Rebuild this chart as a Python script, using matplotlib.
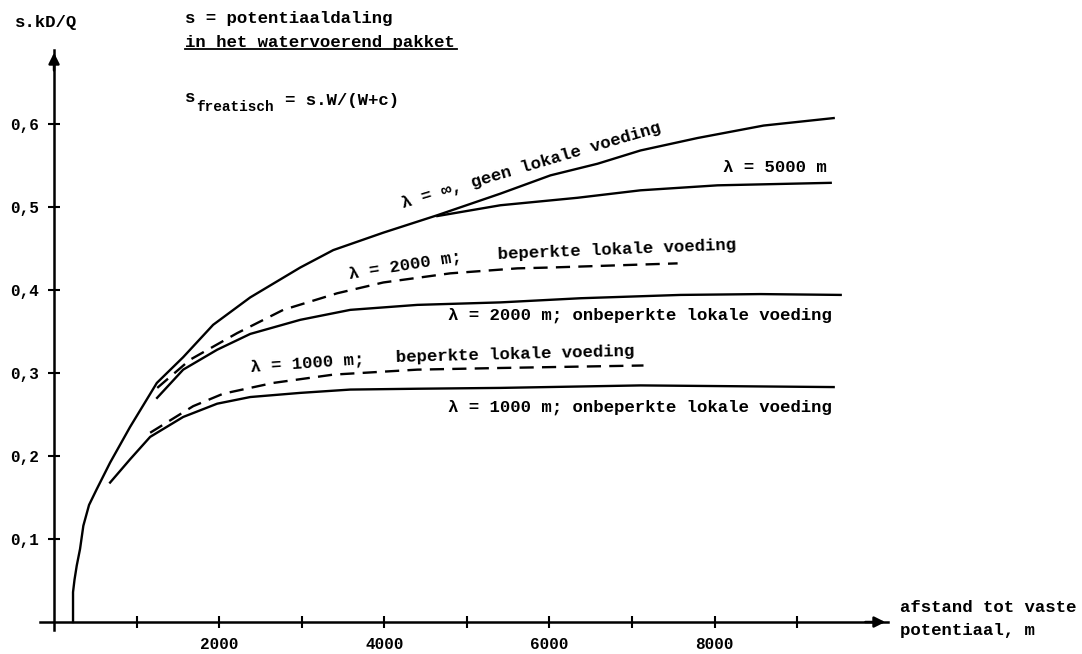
import matplotlib
matplotlib.use("Agg")
import matplotlib.pyplot as plt
from matplotlib.ticker import FixedLocator, FixedFormatter

plt.rcParams['font.family'] = ['Liberation Mono', 'DejaVu Sans Mono']
plt.rcParams['font.weight'] = 'bold'

# afstand (m) en s.kD/Q
inf_x = [230, 230, 248, 275, 315, 355, 424, 517, 679, 921, 1245, 1564, 1927,
         2376, 2982, 3382, 3988, 4642, 5406, 6012, 6582, 7103, 7794, 8594, 9442]
inf_y = [0.0, 0.036, 0.051, 0.068, 0.088, 0.116, 0.141, 0.160, 0.192, 0.235,
         0.288, 0.319, 0.358, 0.391, 0.427, 0.448, 0.469, 0.490, 0.516, 0.538,
         0.552, 0.568, 0.583, 0.598, 0.607]

l5000_x = [4642, 5406, 6339, 7103, 8036, 9406]
l5000_y = [0.489, 0.502, 0.511, 0.520, 0.526, 0.529]

d2000_x = [1250, 1648, 2218, 2776, 3430, 3988, 4800, 5612, 6012, 7552]
d2000_y = [0.282, 0.316, 0.348, 0.376, 0.396, 0.409, 0.420, 0.426, 0.427, 0.432]

s2000_x = [1248, 1564, 1976, 2376, 2982, 3588, 4400, 5406, 6376, 7588, 8558, 9527]
s2000_y = [0.270, 0.304, 0.328, 0.347, 0.364, 0.376, 0.382, 0.385, 0.390,
           0.394, 0.395, 0.394]

d1000_x = [1164, 1685, 2048, 2655, 3382, 4400, 5406, 7139]
d1000_y = [0.228, 0.260, 0.275, 0.288, 0.298, 0.304, 0.306, 0.309]

s1000_x = [679, 921, 1164, 1564, 1976, 2376, 2982, 3588, 4400, 5406, 7103, 9442]
s1000_y = [0.168, 0.196, 0.223, 0.247, 0.263, 0.271, 0.276, 0.280, 0.281,
           0.282, 0.285, 0.283]

x_ticks = [1000, 2000, 3000, 4000, 5000, 6000, 7000, 8000, 9000]
x_tick_labels = ['', '2000', '', '4000', '', '6000', '', '8000', '']
y_ticks = [0.1, 0.2, 0.3, 0.4, 0.5, 0.6]
y_tick_labels = ['0,1', '0,2', '0,3', '0,4', '0,5', '0,6']

W, H = 1082, 654
fig = plt.figure(figsize=(W / 100, H / 100), dpi=100)
ax = fig.add_axes([40 / W, 24 / H, 848 / W, 580 / H])
ax.set_xlim(-170, 10100)
ax.set_ylim(-0.0096, 0.689)

for s in ['top', 'right']:
    ax.spines[s].set_visible(False)
ax.spines['left'].set_position(('data', 0))
ax.spines['bottom'].set_position(('data', 0))
ax.spines['left'].set_linewidth(1.8)
ax.spines['bottom'].set_linewidth(1.8)

ax.annotate('', xy=(1, 0), xycoords=('axes fraction', 'data'),
            xytext=(0.97, 0), textcoords=('axes fraction', 'data'),
            arrowprops=dict(arrowstyle='-|>', color='black', lw=1.8, mutation_scale=16))
ax.annotate('', xy=(0, 1), xycoords=('data', 'axes fraction'),
            xytext=(0, 0.96), textcoords=('data', 'axes fraction'),
            arrowprops=dict(arrowstyle='-|>', color='black', lw=1.8, mutation_scale=16))

ax.xaxis.set_major_locator(FixedLocator(x_ticks))
ax.xaxis.set_major_formatter(FixedFormatter(x_tick_labels))
ax.yaxis.set_major_locator(FixedLocator(y_ticks))
ax.yaxis.set_major_formatter(FixedFormatter(y_tick_labels))
ax.tick_params(axis='both', direction='inout', length=9, width=1.5, labelsize=11.5)
ax.tick_params(axis='x', pad=6)
ax.tick_params(axis='y', pad=6)

lw = 1.7
ax.plot(inf_x, inf_y, color='black', lw=lw)
ax.plot(l5000_x, l5000_y, color='black', lw=lw)
ax.plot(s2000_x, s2000_y, color='black', lw=lw)
ax.plot(s1000_x, s1000_y, color='black', lw=lw)
ax.plot(d2000_x, d2000_y, color='black', lw=lw, dashes=(6, 3.5))
ax.plot(d1000_x, d1000_y, color='black', lw=lw, dashes=(6, 3.5))

fs = 12.5
ax.text(4225, 0.499, 'λ = ∞, geen lokale voeding', rotation=16.5,
        rotation_mode='anchor', ha='left', va='baseline', fontsize=fs)
ax.text(8099, 0.547, 'λ = 5000 m', ha='left', va='center', fontsize=fs)
ax.text(4249, 0.429, 'λ = 2000 m;', rotation=9, rotation_mode='anchor',
        ha='center', va='center', fontsize=fs)
ax.text(6816, 0.448, 'beperkte lokale voeding', rotation=2.3,
        rotation_mode='anchor', ha='center', va='center', fontsize=fs)
ax.text(9419, 0.370, 'λ = 2000 m; onbeperkte lokale voeding',
        ha='right', va='center', fontsize=fs)
ax.text(3063, 0.312, 'λ = 1000 m;', rotation=4, rotation_mode='anchor',
        ha='center', va='center', fontsize=fs)
ax.text(5581, 0.322, 'beperkte lokale voeding', rotation=1.5,
        rotation_mode='anchor', ha='center', va='center', fontsize=fs)
ax.text(9419, 0.259, 'λ = 1000 m; onbeperkte lokale voeding',
        ha='right', va='center', fontsize=fs)


def ftext(px, py, s, **kw):
    kw.setdefault('fontsize', fs)
    kw.setdefault('va', 'center')
    kw.setdefault('ha', 'left')
    fig.text(px / W, 1 - py / H, s, **kw)


ftext(15, 22, 's.kD/Q')
ftext(185, 18, 's = potentiaaldaling')
ftext(185, 42, 'in het watervoerend pakket')
fig.add_artist(plt.Line2D([185 / W, 457 / W], [1 - 49 / H, 1 - 49 / H],
                          color='black', lw=1.3))
ftext(185, 98, 's')
ftext(196, 107, 'freatisch', fontsize=10.4)
ftext(285, 101, '= s.W/(W+c)')
ftext(900, 608, 'afstand tot vaste')
ftext(900, 630, 'potentiaal, m')

fig.savefig('out.png', dpi=100)
